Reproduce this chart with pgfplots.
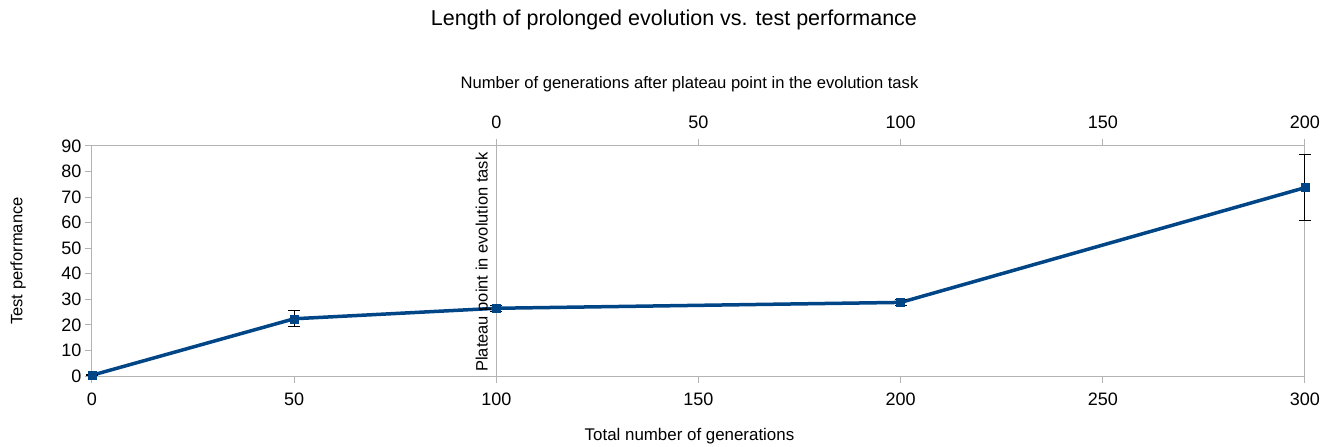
\documentclass[border=0pt]{standalone}
\usepackage{fontspec}
\setmainfont{Liberation Sans}
\usepackage{pgfplots}
\pgfplotsset{compat=1.18}
\definecolor{lblue}{HTML}{004586}
\definecolor{axgray}{HTML}{B3B3B3}
\begin{document}
\begin{tikzpicture}[x=1pt,y=1pt]
\pgfplotsset{
  common/.style={
    at={(0,0)}, anchor=south west,
    scale only axis, width=1213pt, height=230pt,
    ymin=0, ymax=90, clip=false,
    tick align=outside,
    major tick length=7pt,
    tick style={axgray, line width=1pt},
    axis line style={axgray, line width=1pt},
    /pgf/number format/assume math mode=true,
    tick label style={font=\fontsize{18}{18}\selectfont, text=black},
  }
}
\pgfplotstableread{
x y e
0 0.3 0.2
50 22.4 3.1
100 26.5 1.1
200 28.8 1.3
300 73.7 12.9
}\perf
\begin{axis}[common,
  xmin=0, xmax=300,
  xtick={0,50,...,300}, ytick={0,10,...,90},
  xtick pos=lower, ytick pos=left,
  xticklabel style={yshift=-6pt},
]
\draw[axgray, line width=1pt] (axis cs:100,0) -- (axis cs:100,90);
\addplot[lblue, line width=3.5pt, mark=square*,
  mark options={fill=lblue, draw=lblue, line width=0.5pt, mark size=4pt}]
  table[x=x, y=y] {\perf};
\addplot[draw=none, mark=none,
  error bars/.cd, y dir=both, y explicit,
  error bar style={draw=black, line width=1pt},
  error mark options={rotate=90, mark size=6pt, draw=black, line width=1pt}]
  table[x=x, y=y, y error=e] {\perf};
\node[rotate=90, anchor=south west, inner sep=0pt, font=\fontsize{16.5}{16.5}\selectfont]
  at ([xshift=-5pt, yshift=4pt]axis cs:100,0) {Plateau point in evolution task};
\node[rotate=90, font=\fontsize{16.5}{16.5}\selectfont] at ([xshift=-74pt]rel axis cs:0,0.5) {Test performance};
\node[font=\fontsize{16.9}{16.9}\selectfont] at ([yshift=-60pt,xshift=-9pt]rel axis cs:0.5,0) {Total number of generations};
\end{axis}
\begin{axis}[common,
  xmin=-100, xmax=200,
  xtick={0,50,...,200},
  axis x line*=top, axis y line=none,
  xticklabel style={yshift=7pt},
]
\node[font=\fontsize{16.6}{16.6}\selectfont] at ([yshift=62pt,xshift=5pt]rel axis cs:0.4885,1) {Number of generations after plateau point in the evolution task};
\node[font=\fontsize{21.5}{21.5}\selectfont] at ([yshift=126pt]rel axis cs:0.4798,1) {Length of prolonged evolution vs. test performance};
\end{axis}
\pgfresetboundingbox
\path[use as bounding box] (-92,-71) rectangle (1241,376);
\end{tikzpicture}
\end{document}
